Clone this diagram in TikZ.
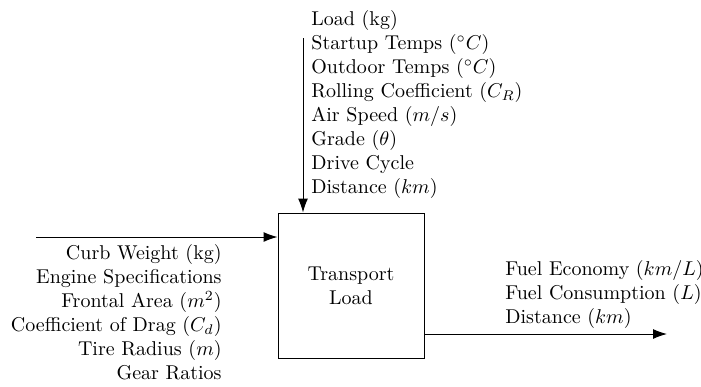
\documentclass[tikz,border=0pt]{standalone}
\usetikzlibrary{arrows.meta}
\tikzset{
  lbl/.style={inner sep=0pt, font=\normalsize},
  conn/.style={-{Latex[length=7pt,width=5pt]}, line width=0.5pt},
  blockbox/.style={draw, line width=0.5pt, minimum width=73pt, minimum height=72.5pt, align=center, inner sep=0pt}
}
\begin{document}
\begin{tikzpicture}[x=0.5pt,y=-0.5pt]
\useasboundingbox (0,0) rectangle (701,386);
\node[blockbox] (box) at (351,285.5) {Transport\\Load};
% left input
\coordinate (lin) at (36,237);
\draw[conn] (lin) -- (lin -| box.west);
\node[lbl, anchor=north east, align=right] (ltext) at (222,244) {Curb Weight (kg)\\Engine Specifications\\Frontal Area ($m^2$)\\Coefficient of Drag ($C_d$)\\Tire Radius ($m$)\\Gear Ratios};
% top input
\coordinate (tin) at (303,38);
\draw[conn] (tin) -- (tin |- box.north);
\node[lbl, anchor=north west, align=left] (ttext) at (311,10) {Load (kg)\\Startup Temps ($^{\circ}C$)\\Outdoor Temps ($^{\circ}C$)\\Rolling Coefficient ($C_R$)\\Air Speed ($m/s$)\\Grade ($\theta$)\\Drive Cycle\\Distance ($km$)};
% output
\coordinate (oend) at (667,334);
\draw[conn] (oend -| box.east) -- (oend);
\node[lbl, anchor=north west, align=left] (otext) at (505,260) {Fuel Economy ($km/L$)\\Fuel Consumption ($L$)\\Distance ($km$)};
\end{tikzpicture}
\end{document}
